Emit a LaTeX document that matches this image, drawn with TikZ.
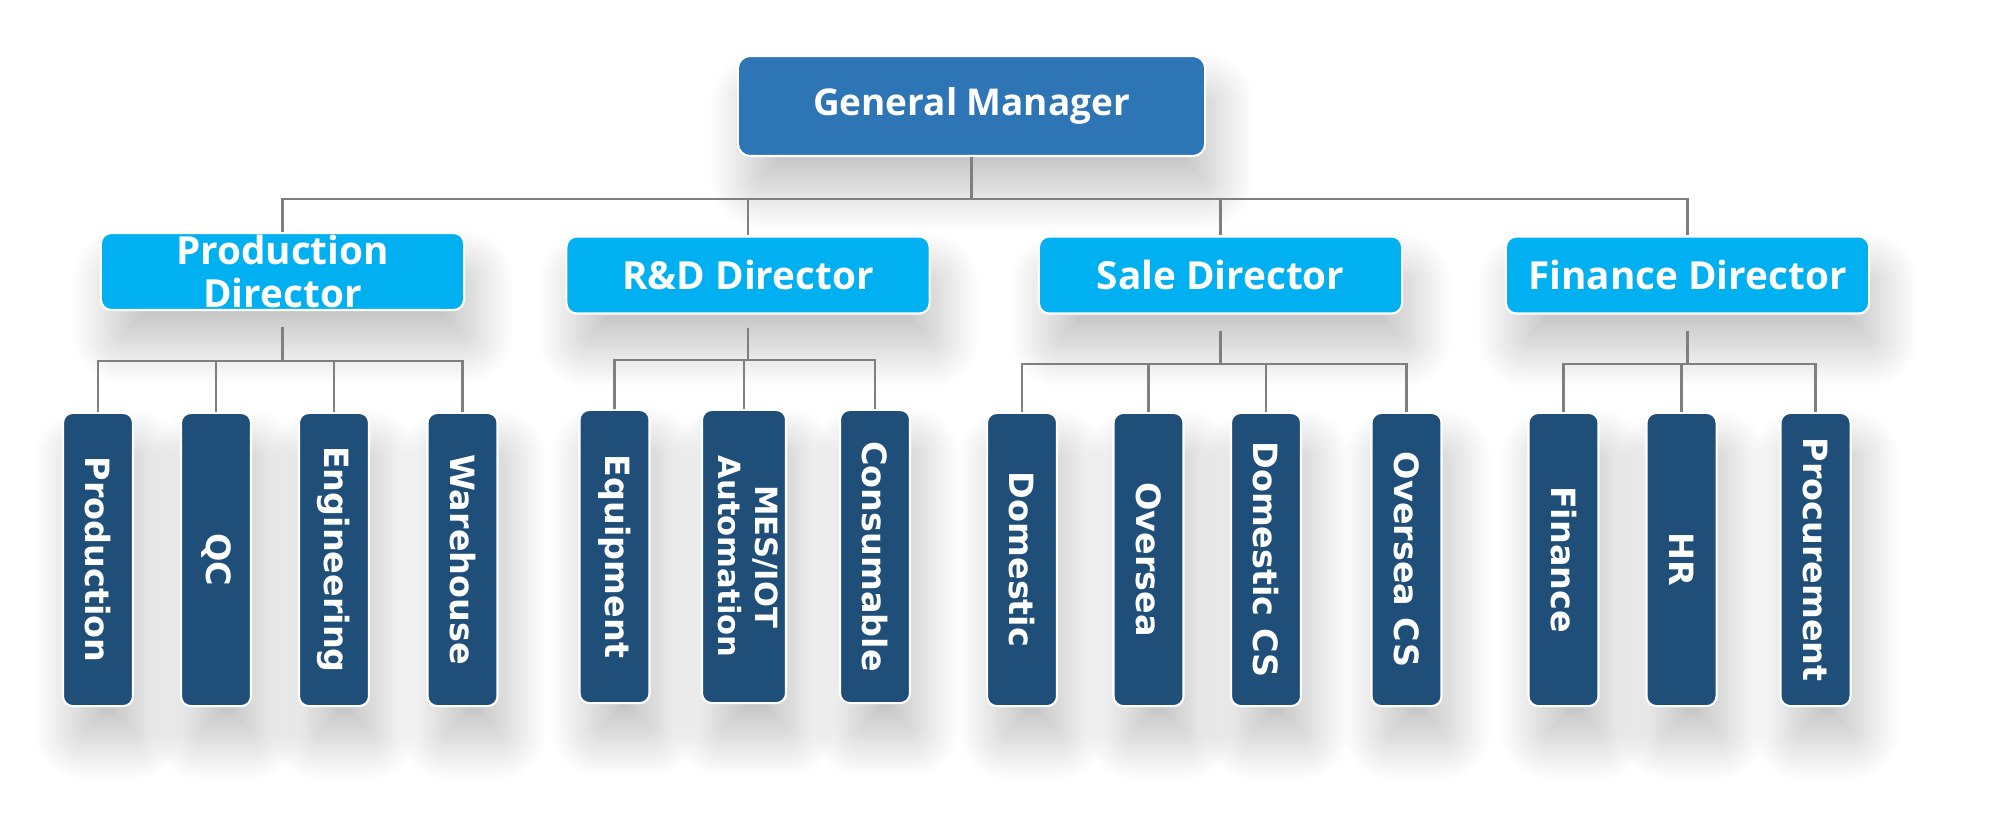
\documentclass[tikz,border=0pt]{standalone}
\usepackage{fontspec}
\setmainfont{Open Sans}
\newfontfamily\leaffont{DejaVu Sans}
\usetikzlibrary{positioning,shadows.blur}
\definecolor{gmblue}{RGB}{46,117,182}
\definecolor{dirblue}{RGB}{0,176,240}
\definecolor{leafblue}{RGB}{31,78,121}
\definecolor{linegray}{RGB}{127,127,127}
\tikzset{
  softshadow/.style={blur shadow={shadow xshift=3pt,shadow yshift=-10pt,shadow blur radius=11pt,
    shadow blur steps=30,shadow opacity=24}},
  gmbox/.style={rectangle,rounded corners=3.5pt,draw=white,line width=0.6pt,fill=gmblue,text=white,inner sep=0pt,
    minimum width=4.67cm,minimum height=1cm,font=\fontsize{10.5}{12}\selectfont\bfseries,softshadow},
  dirbox/.style={rectangle,rounded corners=3pt,draw=white,line width=0.6pt,fill=dirblue,text=white,inner sep=0pt,
    minimum width=3.63cm,minimum height=0.77cm,align=center,font=\fontsize{11}{12.5}\selectfont\bfseries,softshadow},
  leafbox/.style={rectangle,rounded corners=2.8pt,draw=white,line width=0.6pt,fill=leafblue,text=white,inner sep=0pt,
    minimum width=0.70cm,minimum height=2.93cm,font=\leaffont\fontsize{9.5}{11}\selectfont\bfseries,softshadow},
  link/.style={draw=linegray,line width=0.75pt}
}
\newcommand{\vlabel}[1]{\rotatebox{-90}{#1}}

\begin{document}
\begin{tikzpicture}[x=0.01cm,y=0.01cm]
    \useasboundingbox (0,0) rectangle (1989,826);
    % top
    \node[gmbox] (gm) at (971.5,720) {General Manager};
    % directors
    \node[dirbox] (pd) at (282.5,554.5) {Production\\Director};
    \node[dirbox] (rd) at (748,551) {R\&D Director};
    \node[dirbox] (sd) at (1220.5,551) {Sale Director};
    \node[dirbox] (fd) at (1687.5,551) {Finance Director};
    % departments
    \node[leafbox] (prod) at (98,266.5) {\vlabel{Production}};
    \node[leafbox] (qc) at (216,266.5) {\vlabel{QC}};
    \node[leafbox] (eng) at (334,266.5) {\vlabel{Engineering}};
    \node[leafbox] (wh) at (462.5,266.5) {\vlabel{Warehouse}};
    \node[leafbox] (equip) at (614.5,269.5) {\vlabel{Equipment}};
    \node[leafbox,minimum width=0.84cm] (mes) at (744,269.5)
        {\vlabel{\fontsize{8.7}{10.5}\selectfont\begin{tabular}{@{}c@{}}MES/IOT\\Automation\end{tabular}}};
    \node[leafbox] (cons) at (875,269.5) {\vlabel{Consumable}};
    \node[leafbox] (dom) at (1022,266.5) {\vlabel{Domestic}};
    \node[leafbox] (ovs) at (1148.5,266.5) {\vlabel{Oversea}};
    \node[leafbox] (domcs) at (1266,266.5) {\vlabel{Domestic CS}};
    \node[leafbox] (ovscs) at (1406.5,266.5) {\vlabel{Oversea CS}};
    \node[leafbox] (fin) at (1563.5,266.5) {\vlabel{Finance}};
    \node[leafbox] (hr) at (1681.5,266.5) {\vlabel{HR}};
    \node[leafbox] (proc) at (1815.5,266.5) {\vlabel{Procurement}};
    % links
    \draw[link] (gm.south) -- ++(0,-42) -| (pd.north);
    \draw[link] (gm.south) -- ++(0,-42) -| (rd.north);
    \draw[link] (gm.south) -- ++(0,-42) -| (sd.north);
    \draw[link] (gm.south) -- ++(0,-42) -| (fd.north);
    \draw[link,shorten <=0.16cm] (pd.south) -- ++(0,-50) -| (prod.north);
    \draw[link,shorten <=0.16cm] (pd.south) -- ++(0,-50) -| (qc.north);
    \draw[link,shorten <=0.16cm] (pd.south) -- ++(0,-50) -| (eng.north);
    \draw[link,shorten <=0.16cm] (pd.south) -- ++(0,-50) -| (wh.north);
    \draw[link,shorten <=0.13cm] (rd.south) -- ++(0,-45.5) -| (equip.north);
    \draw[link,shorten <=0.13cm] (rd.south) -- ++(0,-45.5) -| (mes.north);
    \draw[link,shorten <=0.13cm] (rd.south) -- ++(0,-45.5) -| (cons.north);
    \draw[link,shorten <=0.16cm] (sd.south) -- ++(0,-49.5) -| (dom.north);
    \draw[link,shorten <=0.16cm] (sd.south) -- ++(0,-49.5) -| (ovs.north);
    \draw[link,shorten <=0.16cm] (sd.south) -- ++(0,-49.5) -| (domcs.north);
    \draw[link,shorten <=0.16cm] (sd.south) -- ++(0,-49.5) -| (ovscs.north);
    \draw[link,shorten <=0.16cm] (fd.south) -- ++(0,-49.5) -| (fin.north);
    \draw[link,shorten <=0.16cm] (fd.south) -- ++(0,-49.5) -| (hr.north);
    \draw[link,shorten <=0.16cm] (fd.south) -- ++(0,-49.5) -| (proc.north);
\end{tikzpicture}
\end{document}
